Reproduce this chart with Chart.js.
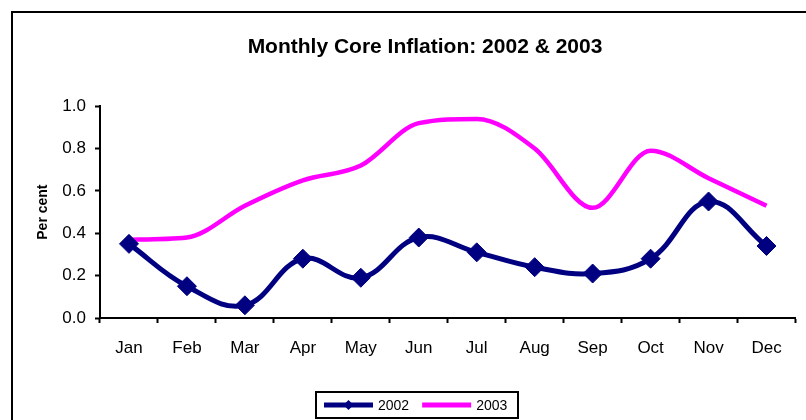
<!DOCTYPE html>
<html>
<head>
<meta charset="utf-8">
<script src="https://cdn.jsdelivr.net/npm/chart.js@4.4.0/dist/chart.umd.min.js"></script>
<style>
  html, body { margin: 0; padding: 0; background: #fff; overflow: hidden; }
  #wrap { position: relative; width: 806px; height: 420px; }
  #frame { position: absolute; left: 11px; top: 11px; width: 820px; height: 430px; border: 2px solid #000; }
  canvas { position: absolute; left: 0; top: 0; }
</style>
</head>
<body>
<div id="wrap">
  <div id="frame"></div>
  <canvas id="chart" width="806" height="420"></canvas>
</div>
<script>
// Monthly core inflation, per cent
const MONTHS = ['Jan', 'Feb', 'Mar', 'Apr', 'May', 'Jun', 'Jul', 'Aug', 'Sep', 'Oct', 'Nov', 'Dec'];
const CORE_2002 = [0.35, 0.15, 0.06, 0.28, 0.19, 0.38, 0.31, 0.24, 0.21, 0.28, 0.55, 0.34];
const CORE_2003 = [0.37, 0.38, 0.53, 0.65, 0.72, 0.92, 0.94, 0.80, 0.52, 0.79, 0.66, 0.53];

const FONT = '"Liberation Sans", Arial, sans-serif';
const NAVY = '#000080';
const MAGENTA = '#FF00FF';

// Excel-style legend: boxed, line sample (+ marker) then label
const boxLegend = {
  id: 'boxLegend',
  afterDraw(chart, args, opts) {
    const ctx = chart.ctx;
    ctx.save();
    ctx.strokeStyle = '#000';
    ctx.lineWidth = 2;
    ctx.strokeRect(opts.left, opts.top, opts.width, opts.height);
    const cy = opts.top + opts.height / 2;
    let x = opts.left + 8;
    ctx.font = '14px ' + FONT;
    ctx.textBaseline = 'middle';
    chart.data.datasets.forEach(ds => {
      ctx.strokeStyle = ds.borderColor;
      ctx.lineWidth = 5;
      ctx.beginPath();
      ctx.moveTo(x, cy);
      ctx.lineTo(x + opts.sample, cy);
      ctx.stroke();
      if (ds.pointRadius > 0) {
        const mx = x + opts.sample / 2, r = 5;
        ctx.fillStyle = ds.pointBackgroundColor;
        ctx.beginPath();
        ctx.moveTo(mx, cy - r);
        ctx.lineTo(mx + r, cy);
        ctx.lineTo(mx, cy + r);
        ctx.lineTo(mx - r, cy);
        ctx.closePath();
        ctx.fill();
      }
      x += opts.sample + 5;
      ctx.fillStyle = '#000';
      ctx.fillText(ds.label, x, cy + 1);
      x += ctx.measureText(ds.label).width + 13;
    });
    ctx.restore();
  }
};

new Chart(document.getElementById('chart'), {
  type: 'line',
  data: {
    labels: MONTHS,
    datasets: [
      {
        label: '2002',
        data: CORE_2002,
        borderColor: NAVY,
        borderWidth: 5,
        tension: 0.4,
        pointStyle: 'rectRot',
        pointRadius: 9.5,
        pointBackgroundColor: NAVY,
        pointBorderColor: NAVY,
        pointBorderWidth: 1,
      },
      {
        label: '2003',
        data: CORE_2003,
        borderColor: MAGENTA,
        borderWidth: 4.5,
        cubicInterpolationMode: 'monotone',
        pointRadius: 0,
      },
    ],
  },
  options: {
    responsive: false,
    animation: false,
    devicePixelRatio: 1,
    // left padding shifts the title centre to match the framed original
    layout: { padding: { left: 53, right: 9, top: 0, bottom: 0 } },
    plugins: {
      legend: { display: false },
      tooltip: { enabled: false },
      title: {
        display: true,
        text: 'Monthly Core Inflation: 2002 & 2003',
        color: '#000',
        font: { family: FONT, size: 21, weight: 'bold' },
        padding: { top: 35, bottom: 46 },
      },
      boxLegend: { left: 316, top: 392, width: 202, height: 26, sample: 49 },
    },
    scales: {
      x: {
        offset: true,
        grid: { offset: true, drawOnChartArea: false, tickLength: 5, tickColor: '#000', tickWidth: 2 },
        border: { color: '#000', width: 2 },
        ticks: { color: '#000', padding: 15, font: { family: FONT, size: 17 }, maxRotation: 0 },
        afterFit: (scale) => { scale.height = 102; },
      },
      y: {
        min: 0,
        max: 1,
        ticks: { stepSize: 0.2, color: '#000', padding: 9, font: { family: FONT, size: 17 },
                 callback: (v) => v.toFixed(1) },
        grid: { drawOnChartArea: false, tickLength: 5, tickColor: '#000', tickWidth: 2 },
        border: { color: '#000', width: 2 },
        title: { display: true, text: 'Per cent', color: '#000',
                 font: { family: FONT, size: 14, weight: 'bold' }, padding: { top: -18.4, bottom: 0 } },
        afterFit: (scale) => { scale.width = 47; },
      },
    },
  },
  plugins: [boxLegend],
});
</script>
</body>
</html>
